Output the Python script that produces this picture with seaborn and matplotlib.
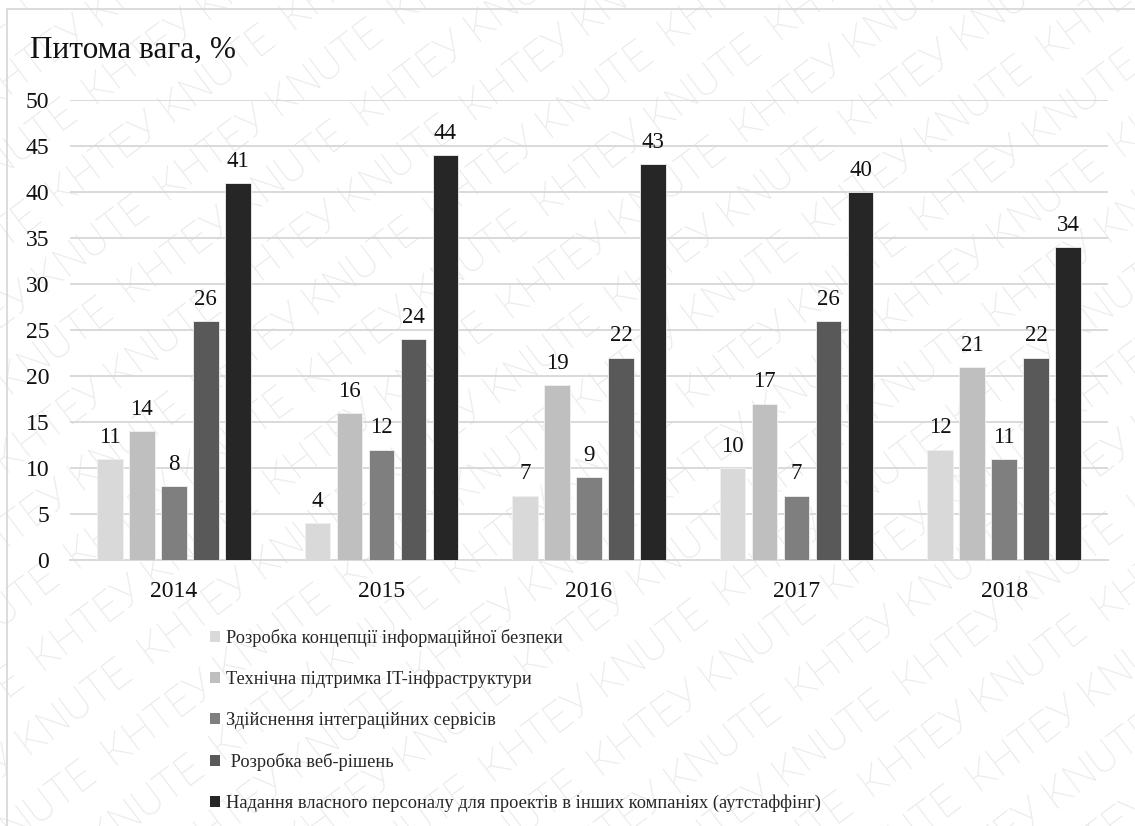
import numpy as np
import pandas as pd
import matplotlib
matplotlib.use("Agg")
import matplotlib.pyplot as plt
from matplotlib.lines import Line2D
from matplotlib.transforms import IdentityTransform
import seaborn as sns

years = ["2014", "2015", "2016", "2017", "2018"]
series_names = [
    "Розробка концепції інформаційної безпеки",
    "Технічна підтримка IT-інфраструктури",
    "Здійснення інтеграційних сервісів",
    " Розробка веб-рішень",
    "Надання власного персоналу для проектів в інших компаніях (аутстаффінг)",
]
security = [11, 4, 7, 10, 12]
it_support = [14, 16, 19, 17, 21]
integration = [8, 12, 9, 7, 11]
web = [26, 24, 22, 26, 22]
outstaffing = [41, 44, 43, 40, 34]
y_ticks = [0, 5, 10, 15, 20, 25, 30, 35, 40, 45, 50]
colors = ["#d9d9d9", "#bfbfbf", "#7f7f7f", "#595959", "#262626"]

values = [security, it_support, integration, web, outstaffing]
df = pd.DataFrame(
    [(y, name, v) for name, vals in zip(series_names, values) for y, v in zip(years, vals)],
    columns=["year", "series", "value"],
)

sns.set_theme(style="white")
plt.rcParams["font.family"] = ["Liberation Serif", "DejaVu Serif"]

W, H, DPI = 1135, 826, 100
fig = plt.figure(figsize=(W / DPI, H / DPI), dpi=DPI)
fig.patch.set_facecolor("white")
ax = fig.add_axes([70 / W, 1 - 560 / H, (1108 - 70) / W, (560 - 100) / H])
ax.patch.set_alpha(0)

# faint diagonal watermark behind the chart
theta = 37
rad = np.deg2rad(theta)
d = np.array([np.cos(rad), np.sin(rad)])
n = np.array([-np.sin(rad), np.cos(rad)])
row_text = "  ".join(["КНТЕУ KNUTE"] * 10)
origin = np.array([W / 2, H / 2])
spacing = 60
for k in range(-13, 14):
    p = origin + k * spacing * n + (k % 2) * 90 * d
    fig.text(p[0], p[1], row_text, transform=IdentityTransform(), rotation=theta,
             rotation_mode="anchor", ha="center", va="center", fontsize=30,
             family=["Roboto", "DejaVu Sans"], weight="light", color="#eaeaea",
             zorder=-5)

sns.barplot(data=df, x="year", y="value", hue="series", palette=colors,
            width=0.77, gap=0.2, ax=ax, legend=False, saturation=1,
            edgecolor="#f0f0f0", linewidth=0.6, zorder=3)

for cont in ax.containers:
    ax.bar_label(cont, padding=8, fontsize=16.5, color="#111111")

ax.set_ylim(0, 50)
ax.set_yticks(y_ticks)
ax.set_xlim(-0.5, 4.5)
ax.yaxis.grid(True, color="#d9d9d9", linewidth=1.4, zorder=0)
ax.set_axisbelow(True)
for s in ["top", "right", "left"]:
    ax.spines[s].set_visible(False)
ax.spines["bottom"].set_color("#d9d9d9")
ax.spines["bottom"].set_linewidth(1.4)
ax.tick_params(axis="both", length=0, labelsize=17, colors="#111111")
ax.tick_params(axis="y", pad=15)
ax.tick_params(axis="x", pad=15)
ax.set_xlabel("")
ax.set_ylabel("")

fig.text(30 / W, 1 - 50 / H, "Питома вага, %", fontsize=22.5, va="center",
         ha="left", color="#111111")

handles = [plt.Rectangle((0, 0), 1, 1, facecolor=c, edgecolor="none") for c in colors]
fig.legend(handles, series_names, loc="upper left",
           bbox_to_anchor=(210 / W, 1 - 629 / H), frameon=False, fontsize=13.2,
           handlelength=0.55, handleheight=0.55, handletextpad=0.3,
           labelspacing=1.3, borderaxespad=0, borderpad=0)

# outer frame
fig.add_artist(Line2D([7 / W, 7 / W], [0, 1 - 9 / H], color="#d6d6d6", linewidth=1.2,
                      transform=fig.transFigure))
fig.add_artist(Line2D([7 / W, 1], [1 - 9 / H, 1 - 9 / H], color="#d6d6d6", linewidth=1.2,
                      transform=fig.transFigure))

fig.savefig("out.png", dpi=DPI)
